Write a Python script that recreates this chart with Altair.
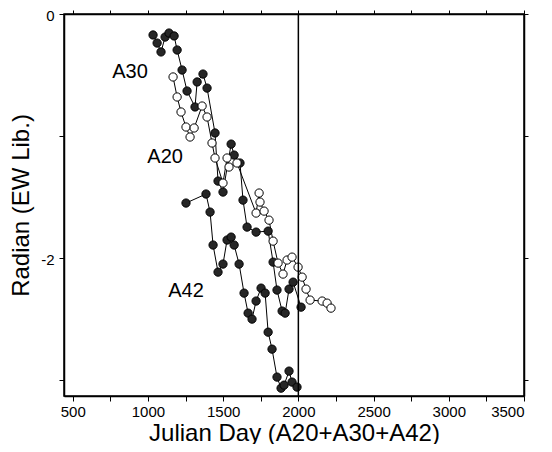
import altair as alt
import pandas as pd

# ---- data ----
a30_x = [1034, 1061, 1087, 1114, 1140, 1174, 1194, 1227, 1260, 1313, 1327, 1366, 1393,
         1446, 1466, 1499, 1553, 1573, 1612, 1632, 1659, 1719, 1799, 1832, 1858, 1892,
         1912, 1938, 1965, 2018]
a30_y = [-0.172, -0.238, -0.311, -0.189, -0.156, -0.180, -0.295, -0.459, -0.631, -0.762,
         -0.557, -0.492, -0.607, -0.975, -1.369, -1.459, -1.066, -1.156, -1.221, -1.525,
         -1.746, -1.787, -1.779, -2.033, -2.262, -2.434, -2.451, -2.254, -2.197, -2.402]

a20_x = [1167, 1194, 1220, 1253, 1280, 1307, 1360, 1393, 1426, 1446, 1499, 1526, 1539,
         1592, 1719, 1739, 1745, 1772, 1805, 1832, 1865, 1898, 1925, 1958, 1998, 2025,
         2051, 2078, 2158, 2191, 2217]
a20_y = [-0.516, -0.680, -0.803, -0.926, -1.008, -0.934, -0.754, -0.844, -1.057, -1.180,
         -1.385, -1.180, -1.254, -1.221, -1.631, -1.467, -1.541, -1.615, -1.689, -1.861,
         -2.041, -2.131, -2.016, -1.992, -2.074, -2.156, -2.254, -2.344, -2.352, -2.369,
         -2.410]

a42_x = [1253, 1386, 1413, 1433, 1466, 1499, 1526, 1553, 1573, 1606, 1639, 1666, 1692,
         1719, 1752, 1779, 1799, 1825, 1858, 1885, 1905, 1938, 1958, 1991]
a42_y = [-1.549, -1.475, -1.623, -1.893, -2.115, -2.049, -1.852, -1.828, -1.893, -2.049,
         -2.287, -2.451, -2.500, -2.352, -2.246, -2.287, -2.607, -2.746, -2.975, -3.066,
         -3.041, -2.926, -3.016, -3.057]

series_names = ["A30", "A20", "A42"]
series_kind = ["filled", "open", "filled"]
label_x = [881, 1114, 1253]
label_y = [-0.475, -1.172, -2.270]

vline_x = [2000]
x_ticks = list(range(500, 3501, 250))
y_ticks = [0, -1, -2, -3]

# ---- build tables ----
rows = []
for name, kind, xs, ys in zip(series_names, series_kind,
                              [a30_x, a20_x, a42_x], [a30_y, a20_y, a42_y]):
    for i, (xv, yv) in enumerate(zip(xs, ys)):
        rows.append({"series": name, "kind": kind, "x": xv, "y": yv, "order": i})
df = pd.DataFrame(rows)
labels = pd.DataFrame({"series": series_names, "x": label_x, "y": label_y})
vline = pd.DataFrame({"x": vline_x})

xscale = alt.Scale(domain=[442, 3500], nice=False, zero=False)
yscale = alt.Scale(domain=[-3.13, 0], nice=False, zero=False)

font = "Liberation Sans"

x_axis = alt.Axis(
    orient="bottom", values=x_ticks, format="d",
    labelExpr="datum.value % 500 == 0 ? datum.label : ''",
    title="Julian Day (A20+A30+A42)", titleFont=font, titleFontSize=24,
    titleFontWeight="normal", titleColor="black",
    titleBaseline="alphabetic", titleY=44,
    labelFont=font, labelFontSize=15, labelColor="black", labelPadding=3,
    tickColor="black", tickSize=5, domainColor="black", domainWidth=1.5,
    grid=False,
)
y_axis = alt.Axis(
    orient="left", values=y_ticks,
    labelExpr="datum.value == 0 ? '0' : (datum.value == -2 ? '-2' : '')",
    title="Radian (EW Lib.)", titleFont=font, titleFontSize=24,
    titleFontWeight="normal", titleColor="black", titleX=-36,
    titleBaseline="alphabetic",
    labelFont=font, labelFontSize=15, labelColor="black", labelPadding=5,
    labelOffset=1,
    tickColor="black", tickSize=5, domainColor="black", domainWidth=1.5,
    grid=False,
)
x_top = alt.Axis(orient="top", values=x_ticks, labels=False, title=None,
                 tickColor="black", tickSize=4, domainColor="black",
                 domainWidth=1.5, grid=False)
y_right = alt.Axis(orient="right", values=y_ticks, labels=False, title=None,
                   tickColor="black", tickSize=4, domainColor="black",
                   domainWidth=1.5, grid=False)

lines = alt.Chart(df).mark_line(color="black", strokeWidth=1).encode(
    x=alt.X("x:Q", scale=xscale, axis=x_axis),
    y=alt.Y("y:Q", scale=yscale, axis=y_axis),
    detail="series:N",
    order="order:Q",
)

points = alt.Chart(df).mark_point(shape="circle", filled=True, size=68,
                                  stroke="black", strokeWidth=1, opacity=1).encode(
    x=alt.X("x:Q", scale=xscale, axis=None),
    y=alt.Y("y:Q", scale=yscale, axis=None),
    fill=alt.Fill("kind:N", scale=alt.Scale(domain=["filled", "open"],
                                            range=["#262626", "#ffffff"]),
                  legend=None),
)

rule = alt.Chart(vline).mark_rule(color="black", strokeWidth=1.5).encode(
    x=alt.X("x:Q", scale=xscale, axis=x_top),
)

frame = alt.Chart(vline).mark_point(opacity=0).encode(
    x=alt.X("x:Q", scale=xscale, axis=None),
    y=alt.Y("x:Q", scale=yscale, axis=y_right),
)

text = alt.Chart(labels).mark_text(font=font, fontSize=20, color="black").encode(
    x=alt.X("x:Q", scale=xscale, axis=None),
    y=alt.Y("y:Q", scale=yscale, axis=None),
    text="series:N",
)

chart = alt.layer(lines, points, rule, frame, text).resolve_axis(
    x="independent", y="independent"
).properties(
    width=460, height=382,
    autosize=alt.AutoSizeParams(type="none"),
    padding={"left": 56, "top": 6, "right": 20, "bottom": 48},
    background="white",
).configure_view(stroke="black", strokeWidth=1.5)

chart.save("out.html", embed_options={"renderer": "svg", "actions": False})
